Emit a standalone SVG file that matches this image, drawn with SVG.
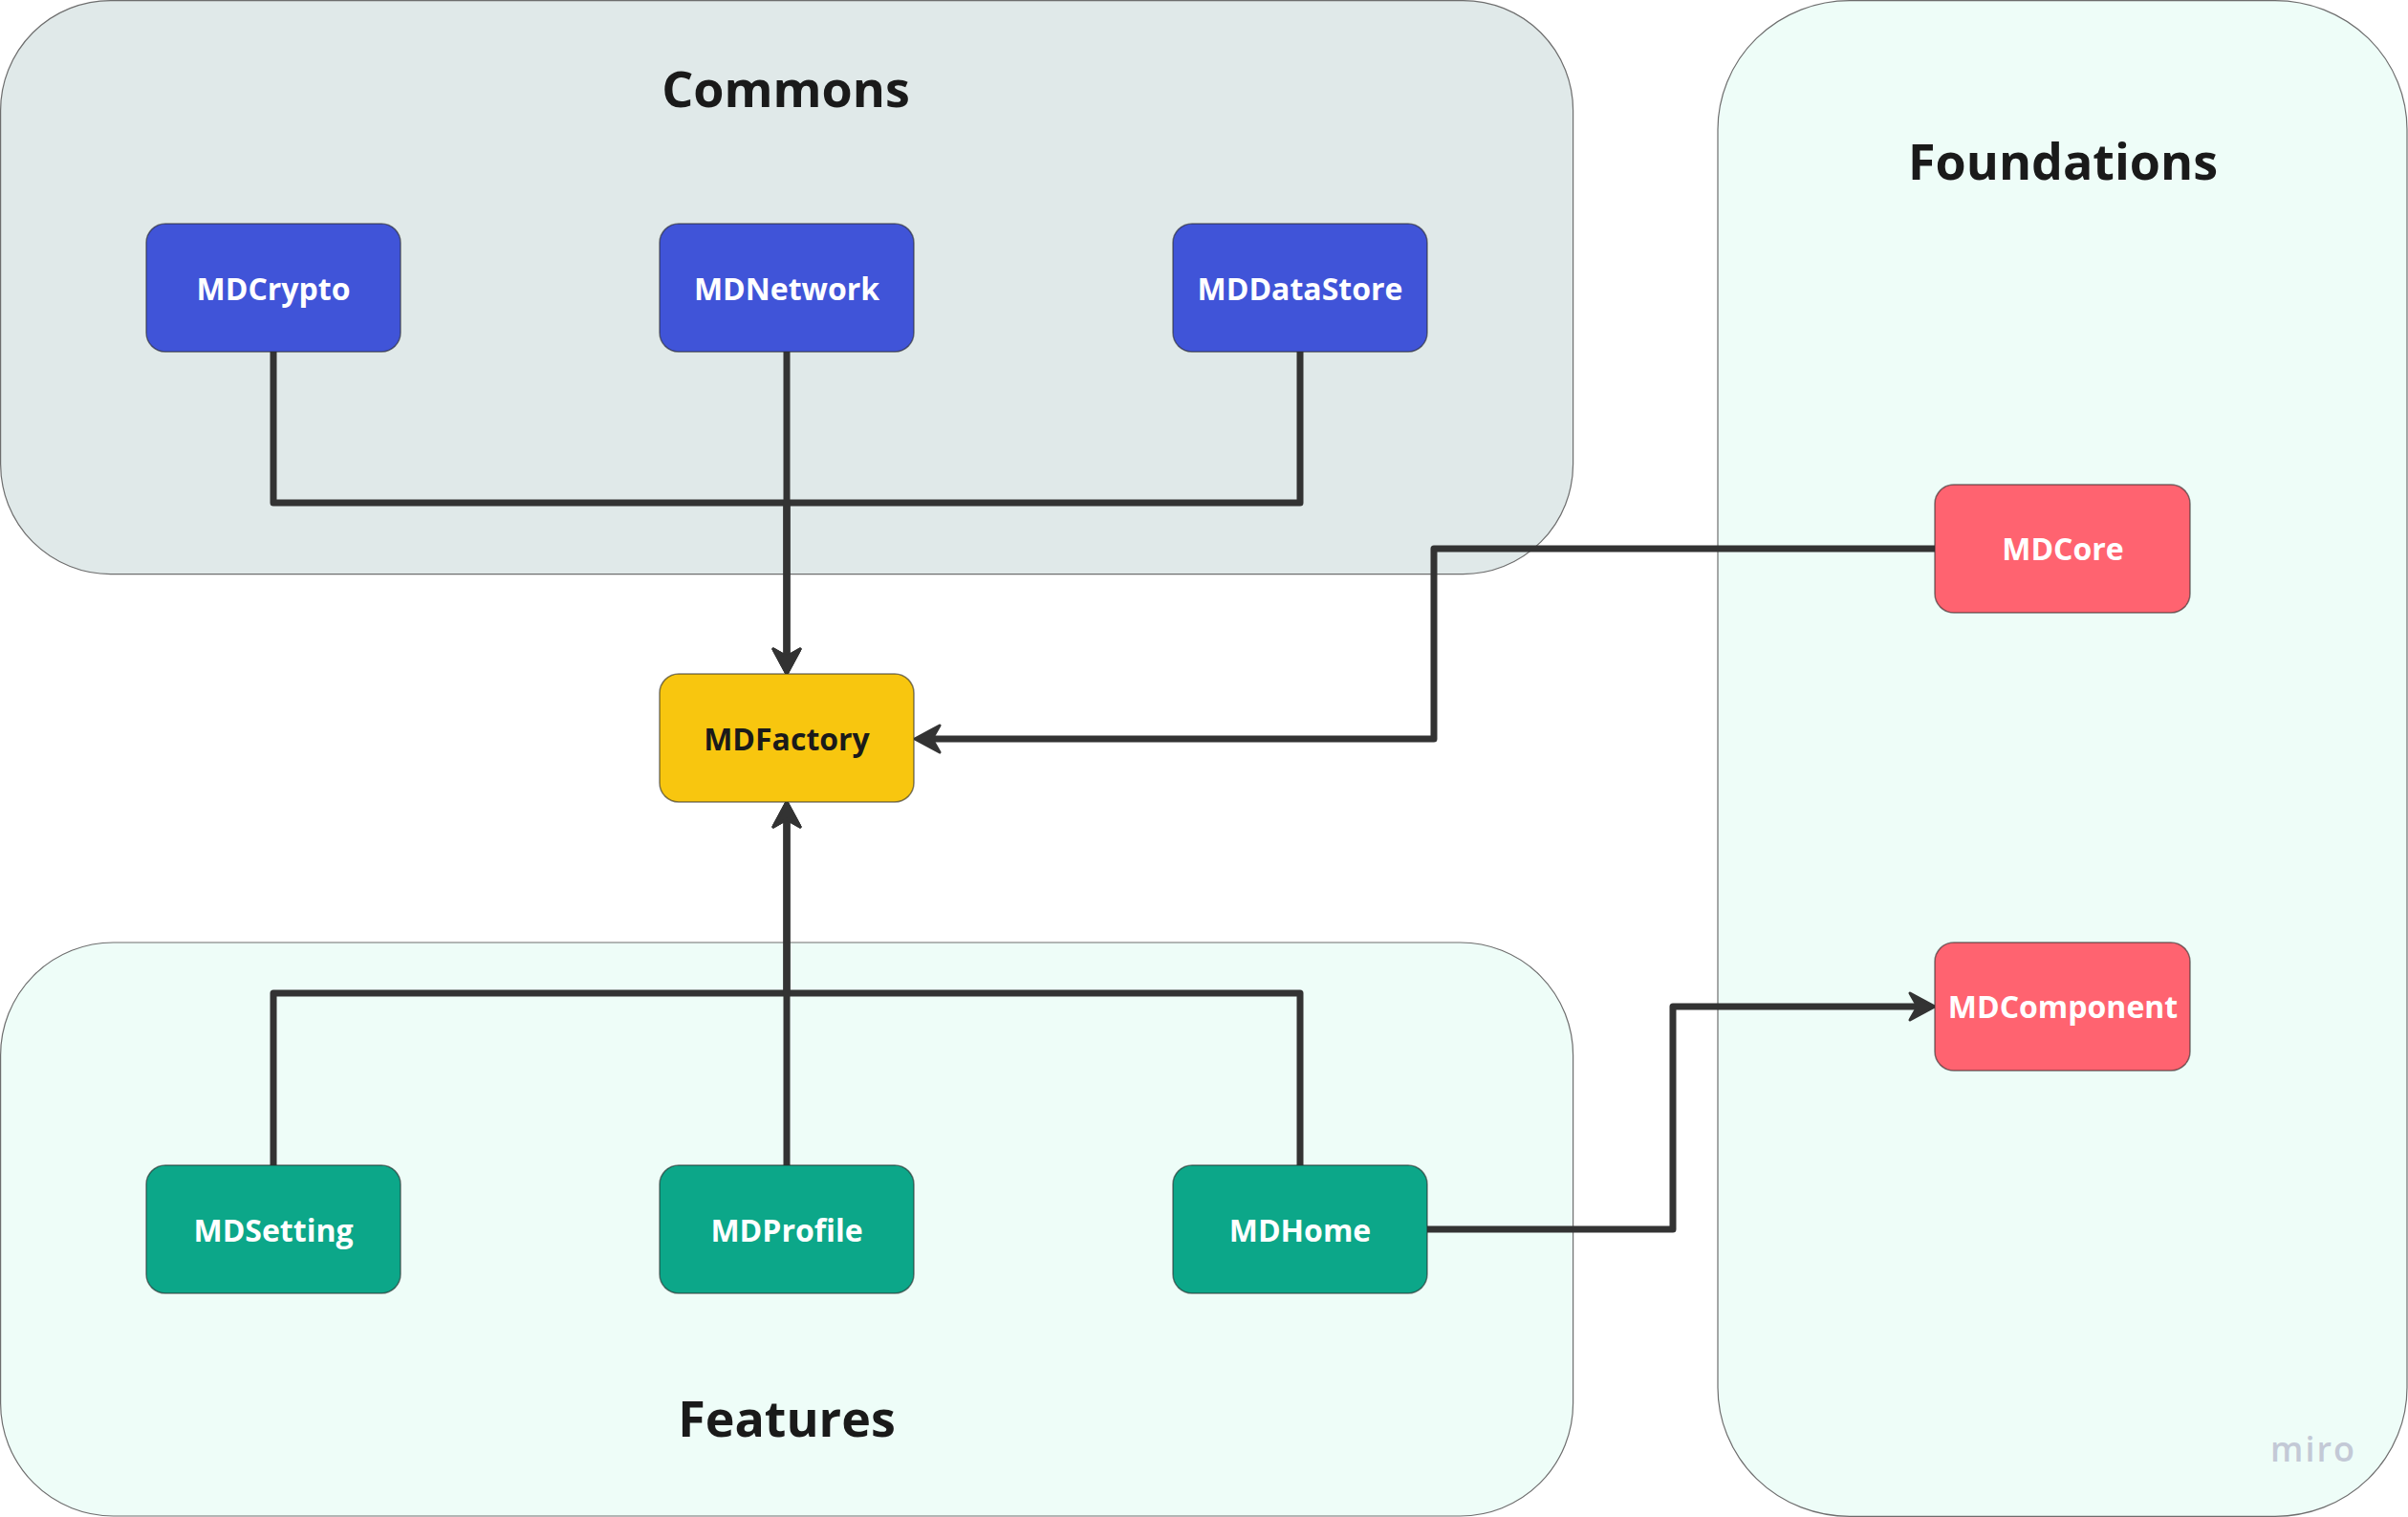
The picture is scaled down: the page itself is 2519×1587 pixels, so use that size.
<svg xmlns="http://www.w3.org/2000/svg" width="2519" height="1587" viewBox="0 0 2519 1587">
<style>
.container{stroke:#6e6e6e;stroke-width:1.2}
.title{font-family:"Open Sans","Liberation Sans",sans-serif;font-weight:700;font-size:52px;fill:#1a1a1a;text-anchor:middle}
.node rect{stroke:#2b2b2b;stroke-opacity:0.6;stroke-width:1.5}
.label{font-family:"Open Sans","Liberation Sans",sans-serif;font-weight:700;font-size:32px;fill:#ffffff;text-anchor:middle}
.blue{fill:#4054D8}
.teal{fill:#0CA789}
.red{fill:#FF6370}
.yellow{fill:#F8C60F}
.conn{fill:none;stroke:#333333;stroke-width:7;stroke-linejoin:round}
</style>
<defs>
<marker id="arrow" markerUnits="userSpaceOnUse" orient="auto" refX="0" refY="0" markerWidth="40" markerHeight="40" overflow="visible">
<path d="M14,0 L-12,-14 L-4,0 L-12,14 Z" fill="#333333" stroke="#333333" stroke-width="3" stroke-linejoin="round"/>
</marker>
</defs>
<rect width="2519" height="1587" fill="#ffffff"/>
<g id="commons">
<rect class="container" x="0.6" y="0.6" width="1645" height="600" rx="115" ry="115" fill="#E0E9E9"/>
<text class="title" x="822" y="112">Commons</text>
</g>
<g id="features">
<rect class="container" x="0.6" y="986" width="1645" height="600" rx="118" ry="118" fill="#EEFDF8"/>
<text class="title" x="823" y="1503">Features</text>
</g>
<g id="foundations">
<rect class="container" x="1797" y="0.6" width="721" height="1585.8" rx="138" ry="135" fill="#EEFDF8"/>
<text class="title" x="2158" y="188">Foundations</text>
<text x="2420" y="1529" font-family="'Open Sans','Liberation Sans',sans-serif" font-size="36" font-weight="600" letter-spacing="2" fill="#C3C9D6" text-anchor="middle">miro</text>
</g>
<g id="connectors">
<path class="conn" d="M286,368 V526 H823 V691" marker-end="url(#arrow)"/>
<path class="conn" d="M1360,368 V526 H823 V691" marker-end="url(#arrow)"/>
<path class="conn" d="M823,368 V691" marker-end="url(#arrow)"/>
<path class="conn" d="M286,1219 V1039 H823 V853" marker-end="url(#arrow)"/>
<path class="conn" d="M1360,1219 V1039 H823 V853" marker-end="url(#arrow)"/>
<path class="conn" d="M823,1219 V853" marker-end="url(#arrow)"/>
<path class="conn" d="M2024,574 H1500 V773 H971" marker-end="url(#arrow)"/>
<path class="conn" d="M1493,1286 H1750 V1053 H2010" marker-end="url(#arrow)"/>
</g>
<g id="MDCrypto" class="node">
<rect class="blue" x="153" y="234" width="266" height="134" rx="20"/>
<text class="label" x="286" y="314">MDCrypto</text>
</g>
<g id="MDNetwork" class="node">
<rect class="blue" x="690" y="234" width="266" height="134" rx="20"/>
<text class="label" x="823" y="314">MDNetwork</text>
</g>
<g id="MDDataStore" class="node">
<rect class="blue" x="1227" y="234" width="266" height="134" rx="20"/>
<text class="label" x="1360" y="314">MDDataStore</text>
</g>
<g id="MDFactory" class="node">
<rect class="yellow" x="690" y="705" width="266" height="134" rx="20"/>
<text class="label" x="823" y="785" style="fill:#1a1a1a">MDFactory</text>
</g>
<g id="MDSetting" class="node">
<rect class="teal" x="153" y="1219" width="266" height="134" rx="20"/>
<text class="label" x="286" y="1299">MDSetting</text>
</g>
<g id="MDProfile" class="node">
<rect class="teal" x="690" y="1219" width="266" height="134" rx="20"/>
<text class="label" x="823" y="1299">MDProfile</text>
</g>
<g id="MDHome" class="node">
<rect class="teal" x="1227" y="1219" width="266" height="134" rx="20"/>
<text class="label" x="1360" y="1299">MDHome</text>
</g>
<g id="MDCore" class="node">
<rect class="red" x="2024" y="507" width="267" height="134" rx="20"/>
<text class="label" x="2158" y="586">MDCore</text>
</g>
<g id="MDComponent" class="node">
<rect class="red" x="2024" y="986" width="267" height="134" rx="20"/>
<text class="label" x="2158" y="1065">MDComponent</text>
</g>
</svg>
